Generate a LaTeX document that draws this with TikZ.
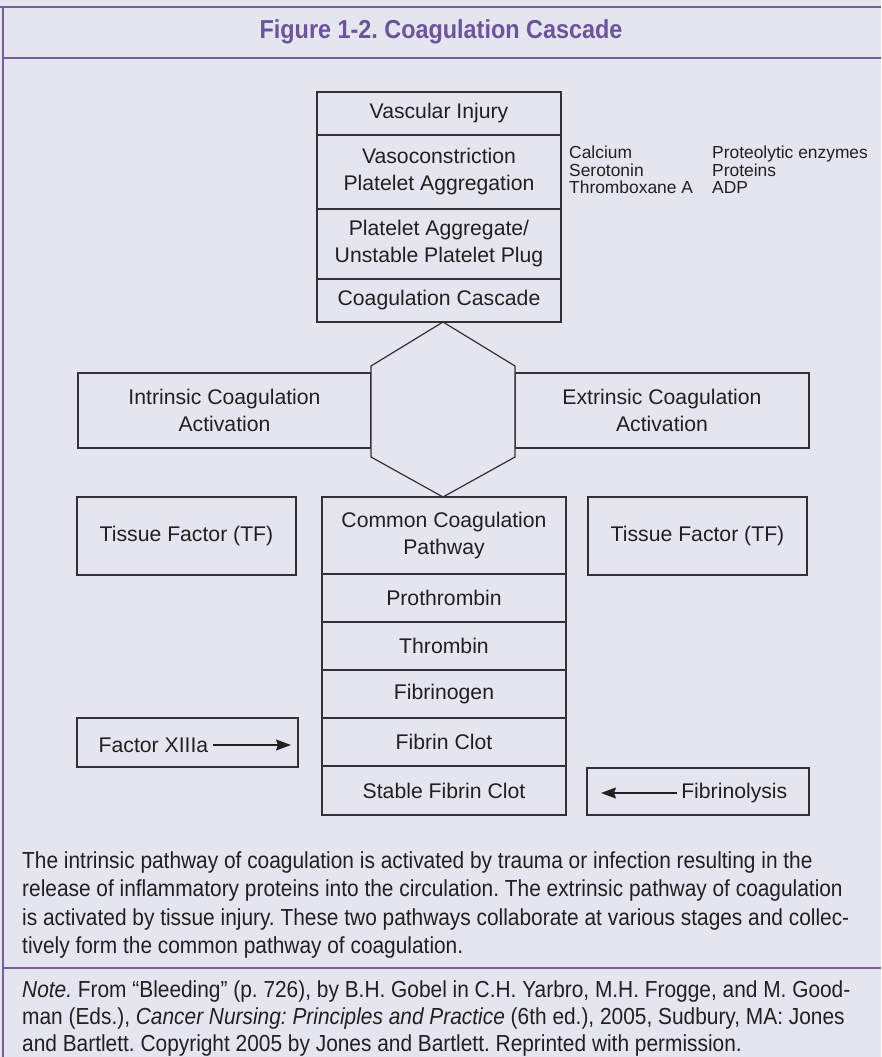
\documentclass[tikz,border=0pt]{standalone}
\usepackage{fontspec}
\setmainfont{Liberation Sans}
\newfontfamily\condfont[FakeStretch=0.9]{Liberation Sans}
\usepackage{tikz}
\usetikzlibrary{positioning}
\usetikzlibrary{arrows.meta}
\definecolor{panelbg}{RGB}{229,229,239}
\definecolor{framepurple}{RGB}{117,94,158}
\definecolor{titlepurple}{RGB}{108,84,154}
\definecolor{boxline}{RGB}{50,48,50}
\definecolor{inkgrey}{RGB}{35,31,32}
\newcommand{\boxtext}{\fontsize{21.2}{27}\selectfont}
\newcommand{\sidetext}{\fontsize{17.4}{17.5}\selectfont}
\frenchspacing

\begin{document}
\begin{tikzpicture}
          [x=1pt, y=-1pt,
           cbox/.style={draw=boxline, line width=1.2pt, inner sep=0pt, outer sep=0pt,
                        align=center, font=\boxtext, text=inkgrey},
           stackbox/.style={cbox, minimum width=244pt},
           sidebox/.style={cbox, minimum width=219pt, minimum height=78pt},
           sidelist/.style={anchor=west, align=left, inner sep=0pt, font=\sidetext, text=inkgrey},
           framerule/.style={draw=framepurple, line width=2.6pt},
           sarrow/.style={draw=inkgrey, line width=1.2pt, -{Stealth[length=15pt, width=11pt, inset=2pt]}}]
          \fill[panelbg] (0,0) rectangle (881,1057);
          \useasboundingbox (0,0) rectangle (881,1057);

          \draw[framerule] (0,7) -- (881,7);
          \draw[framerule] (3,5.7) -- (3,1057);
          \draw[framerule] (3,58) -- (881,58);
          \draw[framerule] (3,968) -- (881,968);

          \node (title) at (441,32) [text=titlepurple, font=\condfont\bfseries\fontsize{26}{30}\selectfont]
                {Figure 1-2. Coagulation Cascade};

          \node (vi) at (439,113.5) [stackbox, minimum height=43pt] {Vascular Injury};
          \node (vc) [stackbox, minimum height=74pt, below = 0pt of vi] {Vasoconstriction\\Platelet Aggregation};
          \node (pa) [stackbox, minimum height=70pt, below = 0pt of vc] {Platelet Aggregate/\\Unstable Platelet Plug};
          \node (cc) [stackbox, minimum height=43pt, below = 0pt of pa] {Coagulation Cascade};

          \node (agents) at (569,170) [sidelist] {Calcium\\Serotonin\\Thromboxane A};
          \node (enzymes) at (712,170) [sidelist] {Proteolytic enzymes\\Proteins\\ADP};

          \node (intr) at (224.5,410.5) [cbox, minimum width=293pt, minimum height=75pt] {Intrinsic Coagulation\\Activation};
          \node (extr) at (662,410.5) [cbox, minimum width=294pt, minimum height=75pt] {Extrinsic Coagulation\\Activation};

          \coordinate (hxn) at (443,322);
          \coordinate (hxs) at (443,497);
          \draw[draw=boxline, line width=1.2pt, fill=panelbg, line join=miter]
                (hxn) -- ++(72,44) -- ++(0,91) -- (hxs) -- ++(-72,-40) -- ++(0,-91) -- cycle;

          \node (cp) at (444,535.5) [stackbox, minimum height=77pt] {Common Coagulation\\Pathway};
          \node (pt) [stackbox, minimum height=48pt, below = 0pt of cp] {Prothrombin};
          \node (th) [stackbox, minimum height=48pt, below = 0pt of pt] {Thrombin};
          \node (fg) [stackbox, minimum height=48pt, below = 0pt of th] {Fibrinogen};
          \node (fc) [stackbox, minimum height=48pt, below = 0pt of fg] {Fibrin Clot};
          \node (sfc) [stackbox, minimum height=49pt, below = 0pt of fc] {Stable Fibrin Clot};

          \node (tfl) at (186.5,536) [sidebox] {Tissue Factor (TF)};
          \node (tfr) at (697.5,536) [sidebox] {Tissue Factor (TF)};

          \node (fxbox) at (187.5,742.5) [cbox, minimum width=221pt, minimum height=49pt] {};
          \node (fxlbl) at (94,745) [anchor=west, inner sep=4.5pt, font=\boxtext, text=inkgrey] {Factor XIIIa};
          \coordinate (fxtip) at (291,745);
          \draw[sarrow] (fxlbl) -- (fxtip);

          \node (fbbox) at (698,791.5) [cbox, minimum width=222pt, minimum height=47pt] {};
          \node (fblbl) at (792,793) [anchor=east, inner sep=4.5pt, font=\boxtext, text=inkgrey] {Fibrinolysis};
          \coordinate (fbtip) at (601,793);
          \draw[sarrow] (fblbl) -- (fbtip);

          \node (caption) at (22,851) [anchor=north west, align=left, inner sep=0pt, text=inkgrey,
                font=\condfont\fontsize{23.2}{28.5}\selectfont]
                {The intrinsic pathway of coagulation is activated by trauma or infection resulting in the\\
                 release of inflammatory proteins into the circulation. The extrinsic pathway of coagulation\\
                 is activated by tissue injury. These two pathways collaborate at various stages and collec-\\
                 tively form the common pathway of coagulation.};

          \node (note) at (22,980.5) [anchor=north west, align=left, inner sep=0pt, text=inkgrey,
                font=\condfont\fontsize{23.2}{27}\selectfont]
                {\textit{Note.} From \textquotedblleft Bleeding\textquotedblright{} (p.~726), by B.H. Gobel in C.H. Yarbro, M.H. Frogge, and M. Good-\\
                 man (Eds.), \textit{Cancer Nursing: Principles and Practice} (6th ed.), 2005, Sudbury, MA: Jones\\
                 and Bartlett. Copyright 2005 by Jones and Bartlett. Reprinted with permission.};
        \end{tikzpicture}
\end{document}
